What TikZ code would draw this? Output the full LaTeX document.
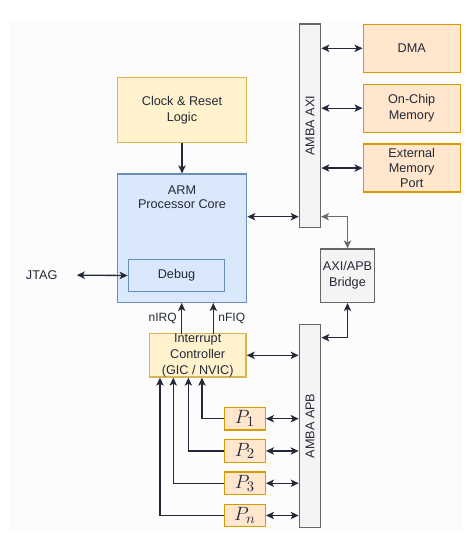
\documentclass[tikz,border=0pt]{standalone}
\usepackage{fontspec}
\setmainfont{Liberation Sans}
\usepackage{tikz}
\usetikzlibrary{arrows.meta}
\usetikzlibrary{positioning}
\definecolor{ink}{RGB}{35,41,56}
\definecolor{greyarr}{RGB}{107,107,107}
\definecolor{bgc}{RGB}{252,252,252}
\definecolor{ylwfill}{HTML}{FFF2CC}
\definecolor{ylwline}{HTML}{D6B656}
\definecolor{bluefill}{HTML}{DAE8FC}
\definecolor{blueline}{HTML}{6C8EBF}
\definecolor{orgfill}{HTML}{FFE6CC}
\definecolor{orgline}{HTML}{D79B00}
\definecolor{barfill}{HTML}{F5F3F4}
\definecolor{barline}{HTML}{666666}
\tikzstyle{blk} = [draw, line width=1pt, inner sep=0pt, align=center, font=\fontsize{9.5}{12}\selectfont, text=ink]
\tikzstyle{ylw} = [blk, fill=ylwfill, draw=ylwline]
\tikzstyle{blu} = [blk, fill=bluefill, draw=blueline]
\tikzstyle{org} = [blk, fill=orgfill, draw=orgline, minimum width=72.75pt, minimum height=36pt]
\tikzstyle{bus} = [blk, fill=barfill, draw=barline, minimum width=16pt, minimum height=152.5pt]
\tikzstyle{per} = [org, minimum width=30.75pt, minimum height=16.9pt, font=\fontsize{15}{16}\selectfont]
\tikzstyle{arrow} = [line width=1pt, draw=ink, {Stealth[length=6pt,width=5.5pt,inset=1.5pt]}-{Stealth[length=6pt,width=5.5pt,inset=1.5pt]}]
\tikzstyle{uparrow} = [line width=1pt, draw=ink, -{Stealth[length=6pt,width=5.5pt,inset=1.5pt]}]

\begin{document}
\begin{tikzpicture}[x=0.75pt, y=-0.75pt, node distance=7.9pt]
\useasboundingbox (0,0) rectangle (472,539);
\fill[bgc] (10,21) rectangle (462,532);

\node[bus] (axi) at (310,125.7) {};
\node[rotate=90, font=\fontsize{9.5}{12}\selectfont, text=ink] at (axi) {AMBA AXI};
\node[bus] (apb) at (310,426) {};
\node[rotate=90, font=\fontsize{9.5}{12}\selectfont, text=ink] at (apb) {AMBA APB};

\node[org] (dma) at (411.7,48.3) {DMA};
\node[org, below=of dma] (ocm) {On-Chip\\Memory};
\node[org, below=of ocm, font=\fontsize{9.5}{11.3}\selectfont] (emp) {External\\Memory\\Port};

\node[ylw, minimum width=97pt, minimum height=48.5pt] (clk) at (182,110) {Clock \& Reset\\Logic};
\node[blu, minimum width=97pt, minimum height=96.2pt] (arm) at (182,238.2) {};
\node[anchor=north, align=center, font=\fontsize{9.5}{10.7}\selectfont, text=ink] (armtxt) at ([yshift=-5.5pt]arm.north) {ARM\\Processor Core};
\node[blu, minimum width=72.3pt, minimum height=24.3pt] (dbg) at (176.5,275.5) {Debug};
\node[font=\fontsize{9.5}{12}\selectfont, text=ink] (jtag) at (41.7,275) {JTAG};

\node[blk, fill=barfill, draw=barline, minimum width=40.2pt, minimum height=40pt] (br) at (347.5,275.7) {AXI/APB\\Bridge};
\node[ylw, minimum width=72.5pt, minimum height=32pt] (ic) at (197.7,355.3) {Interrupt\\Controller\\(GIC / NVIC)};

\node[per] (p1) at (244.8,418.7) {$P_1$};
\node[per, below=6.3pt of p1] (p2) {$P_2$};
\node[per, below=6.3pt of p2] (p3) {$P_3$};
\node[per, below=6.3pt of p3] (pn) {$P_n$};

\coordinate (ax) at (321,216.7);
\coordinate (irq) at (181.7,334);
\coordinate (fiq) at (213.3,334);

\draw[arrow] (axi.east |- dma) -- (dma.west);
\draw[arrow] (axi.east |- ocm) -- (ocm.west);
\draw[arrow] (axi.east |- emp) -- (emp.west);
\draw[uparrow] (clk.south) -- (clk.south |- arm.north);
\draw[arrow] (arm.east |- ax) -- (axi.west |- ax);
\draw[arrow, draw=greyarr] (ax) -| (br.north);
\draw[arrow] (br.south) |- (apb.east |- 0,337.7);
\draw[arrow, shorten <=11pt] (jtag.east) -- (dbg.west);
\draw[uparrow] (irq) -- node[left, font=\fontsize{9}{10}\selectfont, text=ink] {nIRQ} (irq |- arm.south);
\draw[uparrow] (fiq) -- node[right, font=\fontsize{9}{10}\selectfont, text=ink] {nFIQ} (fiq |- arm.south);
\draw[arrow] (ic.east) -- (apb.west |- ic.east);

\draw[arrow] (p1.east) -- (apb.west |- p1.east);
\draw[arrow] (p2.east) -- (apb.west |- p2.east);
\draw[arrow] (p3.east) -- (apb.west |- p3.east);
\draw[arrow] (pn.east) -- (apb.west |- pn.east);

\draw[uparrow] (p1.west) -| ([xshift=3.2pt]ic.south);
\draw[uparrow] (p2.west) -| ([xshift=-7pt]ic.south);
\draw[uparrow] (p3.west) -| ([xshift=-18.3pt]ic.south);
\draw[uparrow] (pn.west) -| ([xshift=-28.3pt]ic.south);
\end{tikzpicture}
\end{document}
